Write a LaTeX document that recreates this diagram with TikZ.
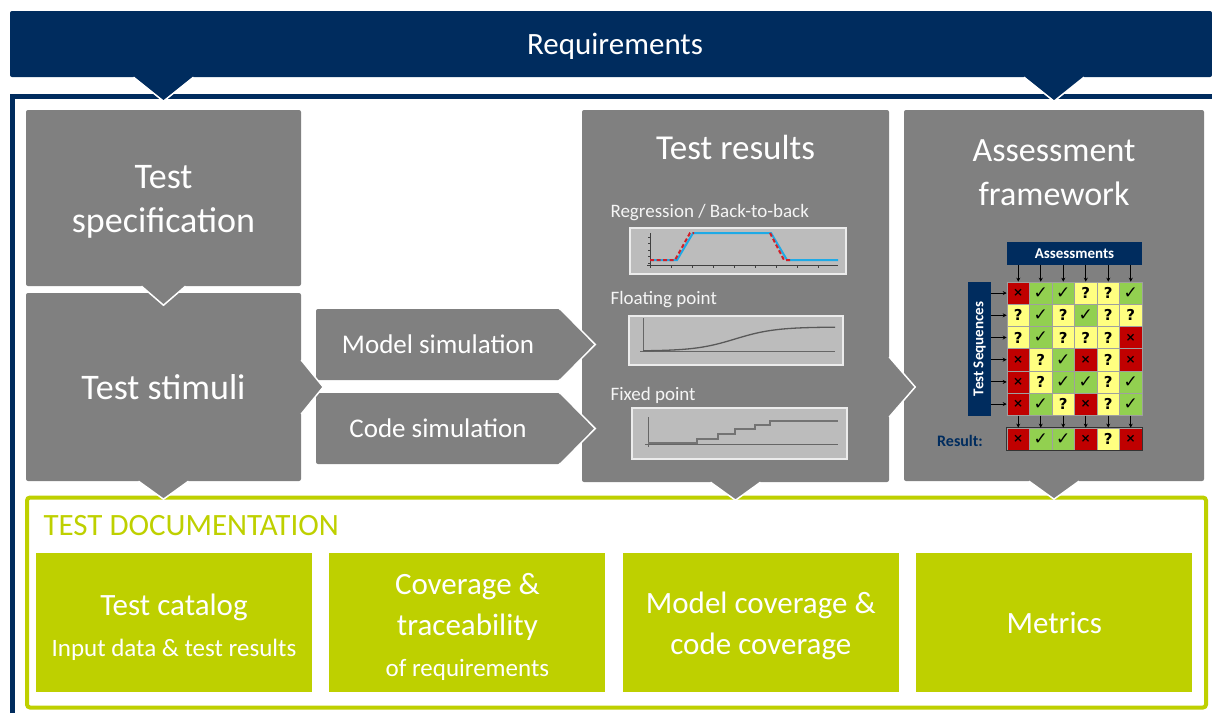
\documentclass[tikz,border=0pt]{standalone}
\usepackage{fontspec}
\setmainfont{Carlito}
\newfontfamily\symbolfont{DejaVu Sans}
\usetikzlibrary{calc, positioning, arrows.meta}

\definecolor{reqblue}{RGB}{0,44,94}
\definecolor{boxgray}{RGB}{128,128,128}
\definecolor{docgreen}{RGB}{190,208,0}
\definecolor{cellred}{RGB}{192,0,0}
\definecolor{cellgreen}{RGB}{146,208,80}
\definecolor{cellyellow}{RGB}{255,255,128}
\definecolor{chartbg}{RGB}{188,188,188}
\definecolor{curveblue}{RGB}{30,170,230}
\definecolor{curvered}{RGB}{210,30,40}

\tikzset{
  graybox/.style={fill=boxgray, rounded corners=2pt, text=white, align=center, inner sep=0pt},
  boxtext/.style={text=white, align=center, inner sep=0pt},
  greenbox/.style={fill=docgreen, inner sep=0pt, minimum width=276pt, minimum height=139pt},
  greentext/.style={text=white, align=center, inner sep=0pt, font=\fontsize{31}{41}\selectfont},
  notchedge/.style={draw=white, line width=1.5pt},
  chartframe/.style={fill=chartbg, draw=white!85!gray, line width=1.2pt},
  chartaxis/.style={draw=black!75, line width=0.9pt},
  cellbase/.style={draw=gray!75, line width=0.6pt, minimum width=22.5pt, minimum height=22.2pt,
    inner sep=0pt, font=\symbolfont},
  cellx/.style={cellbase, fill=cellred, node contents={\bfseries\fontsize{12}{12}\selectfont ×}},
  cellc/.style={cellbase, fill=cellgreen, node contents={\fontsize{17}{17}\selectfont ✓}},
  cellq/.style={cellbase, fill=cellyellow, node contents={\bfseries\fontsize{15}{15}\selectfont ?}},
  matarrow/.style={-{Stealth[length=4pt,width=4pt]}, line width=0.9pt}
}

\begin{document}
\begin{tikzpicture}[x=1pt, y=-1pt]
  \useasboundingbox (0,0) rectangle (1212,713);

  % requirements bar and frame
  \node[fill=reqblue, rounded corners=2pt, minimum width=1202, minimum height=66, inner sep=0pt] (req) at (611,44) {};
  \node[boxtext, font=\fontsize{31}{36}\selectfont] (reqtext) at (615,46) {Requirements};
  \draw[reqblue, line width=4.5pt] (12.5,713) -- (12.5,96.5) -- (1212,96.5);
  \draw[docgreen, line width=4pt, rounded corners=3pt] (27,497.5) rectangle (1206,707.5);

  % gray process boxes
  \node[graybox, minimum width=275, minimum height=176] (spec) at (163.5,198) {};
  \node[boxtext, font=\fontsize{36}{44}\selectfont] (spectext) at ($(spec)+(0,4)$) {Test\\specification};
  \node[graybox, minimum width=275, minimum height=188, font=\fontsize{36}{40}\selectfont] (stimuli) at (163.5,387) {Test stimuli};
  \node[graybox, minimum width=244, minimum height=71, font=\fontsize{27}{30}\selectfont] (msim) at (438,344.5) {Model simulation};
  \node[graybox, minimum width=244, minimum height=71, font=\fontsize{27}{30}\selectfont] (csim) at (438,428.5) {Code simulation};
  \node[graybox, minimum width=307, minimum height=372] (results) at (735.5,296) {};
  \node[graybox, minimum width=300, minimum height=371] (assess) at (1054,295.5) {};
  \node[boxtext, font=\fontsize{35}{40}\selectfont] (restitle) at ($(results.north)+(0,38)$) {Test results};
  \node[boxtext, font=\fontsize{34}{44}\selectfont] (astitle) at ($(assess.north)+(0,63)$) {Assessment\\framework};

  % charts
  \node[anchor=west, text=white!92!gray, font=\fontsize{19}{22}\selectfont] (lregr) at (607,213) {Regression / Back-to-back};
  \node[anchor=west, text=white!92!gray, font=\fontsize{19}{22}\selectfont] (lfloat) at (607,300) {Floating point};
  \node[anchor=west, text=white!92!gray, font=\fontsize{19}{22}\selectfont] (lfixed) at (607,395) {Fixed point};

  \draw[chartframe] (630,228) rectangle (846,274);
  \draw[chartaxis] (650,233) -- (650,267) (647,265) -- (838,265);
  \foreach \t in {0,...,8} \draw[chartaxis] (650+21*\t,265) -- ++(0,3);
  \foreach \t in {0,...,4} \draw[chartaxis] (650,237+6.5*\t) -- ++(-2.5,0);
  \draw[curveblue, line width=2pt] (650,260) -- (677,260) -- (693,233) -- (771,233) -- (787,260) -- (838,260);
  \draw[curvered, line width=2pt, dash pattern=on 4pt off 2.5pt] (650,260) -- (675,260) -- (690,233) -- (694,233);
  \draw[curvered, line width=2pt, dash pattern=on 4pt off 2.5pt] (770,233) -- (784,260) -- (790,260);

  \draw[chartframe] (629,316) rectangle (843,365);
  \draw[chartaxis, draw=black!60] (643,318) -- (643,352) (640,351) -- (835,351);
  \draw[black!65, line width=1.3pt] plot[domain=643:835, samples=60, smooth] (\x,{351-24/(1+exp(-(\x-735)/20))});

  \draw[chartframe] (632,408) rectangle (847,459);
  \draw[chartaxis, draw=black!60] (648,417) -- (648,447) (645,444) -- (838,444);
  \draw[black!55, line width=1.8pt] (648,443) -- (697,443) -- (697,439) -- (718,439) -- (718,434) -- (735,434)
    -- (735,429) -- (755,429) -- (755,425) -- (770,425) -- (770,421) -- (838,421);

  % assessment matrix
  \node[fill=reqblue, text=white, inner sep=0pt, minimum width=135, minimum height=23,
    font=\bfseries\fontsize{15}{15}\selectfont] (hdr) at (1074.5,253.5) {Assessments};
  \node[fill=reqblue, text=white, inner sep=0pt, minimum width=134, minimum height=23, rotate=90,
    font=\bfseries\fontsize{15}{15}\selectfont] (seq) at (979.5,349) {Test Sequences};
  \foreach \vals [count=\j] in {{x,c,c,q,q,c},{q,c,q,c,q,q},{q,c,q,q,q,x},{x,q,c,x,q,x},{x,q,c,c,q,c},{x,c,q,x,q,c}}
    \foreach \v [count=\i] in \vals
      \node (m\j\i) at ({995.75+22.5*\i},{270.9+22.2*\j}) [cell\v];
  \foreach \v [count=\i] in {x,c,c,x,q,x}
    \node (r\i) at ({995.75+22.5*\i},439) [cell\v];
  \draw[black!80, line width=1.2pt] (r1.north west) rectangle (r6.south east);
  \foreach \i in {1,...,6} {
    \draw[matarrow] (hdr.south -| m1\i) -- (m1\i.north);
    \draw[matarrow] (m6\i.south) -- (r\i.north);
  }
  \foreach \j in {1,...,6} \draw[matarrow] (seq.south |- m\j1) -- (m\j1.west);
  \node[text=reqblue, font=\bfseries\fontsize{16}{16}\selectfont] (reslabel) at (960,441) {Result:};

  % test documentation
  \node[anchor=west, text=docgreen, font=\fontsize{31}{34}\selectfont] (doctitle) at (40,526) {TEST DOCUMENTATION};
  \node[greenbox] (catalog) at (174,622.5) {};
  \node[greenbox, right=17pt of catalog] (coverage) {};
  \node[greenbox, right=17pt of coverage] (modelcov) {};
  \node[greenbox, right=17pt of modelcov] (metrics) {};
  \node[greentext] (catalogtext) at ($(catalog)+(0,5)$) {Test catalog\\{\fontsize{25}{28}\selectfont Input data \& test results}};
  \node[greentext] (coveragetext) at ($(coverage)+(0,4)$) {Coverage \&\\traceability\\{\fontsize{25}{28}\selectfont of requirements}};
  \node[greentext] (modelcovtext) at ($(modelcov)+(0,3)$) {Model coverage \&\\code coverage};
  \node[greentext] (metricstext) at (metrics) {Metrics};

  % notches pointing down
  \foreach \n in {spec, assess} {
    \fill[reqblue] ($(req.south -| \n)+(-30,0)$) -- ($(req.south -| \n)+(0,24)$) -- ($(req.south -| \n)+(30,0)$) -- cycle;
    \draw[notchedge] ($(req.south -| \n)+(-30,0)$) -- ($(req.south -| \n)+(0,24)$) -- ($(req.south -| \n)+(30,0)$);
  }
  \fill[boxgray] ($(spec.south)+(-22,0)$) -- ($(spec.south)+(0,19)$) -- ($(spec.south)+(22,0)$) -- cycle;
  \draw[notchedge] ($(spec.south)+(-22,0)$) -- ($(spec.south)+(0,19)$) -- ($(spec.south)+(22,0)$);
  \foreach \n in {stimuli, results, assess} {
    \fill[boxgray] ($(\n.south)+(-25,0)$) -- ($(\n.south)+(0,18)$) -- ($(\n.south)+(25,0)$) -- cycle;
    \draw[notchedge] ($(\n.south)+(-25,0)$) -- ($(\n.south)+(0,18)$) -- ($(\n.south)+(25,0)$);
  }

  % chevrons pointing right
  \fill[boxgray] ($(stimuli.east)+(0,-27)$) -- ($(stimuli.east)+(22,0)$) -- ($(stimuli.east)+(0,27)$) -- cycle;
  \draw[notchedge] ($(stimuli.east)+(0,-27)$) -- ($(stimuli.east)+(22,0)$) -- ($(stimuli.east)+(0,27)$);
  \foreach \n in {msim, csim} {
    \fill[boxgray] (\n.north east) -- ($(\n.east)+(35,0)$) -- (\n.south east) -- cycle;
    \draw[notchedge] ($(\n.north east)+(-8,-8)$) -- ($(\n.east)+(35,0)$) -- ($(\n.south east)+(-8,8)$);
  }
  \coordinate (rtip) at (results.east |- stimuli.east);
  \fill[boxgray] ($(rtip)+(0,-30)$) -- ($(rtip)+(26,0)$) -- ($(rtip)+(0,30)$) -- cycle;
  \draw[notchedge] ($(rtip)+(0,-30)$) -- ($(rtip)+(26,0)$) -- ($(rtip)+(0,30)$);
\end{tikzpicture}
\end{document}
